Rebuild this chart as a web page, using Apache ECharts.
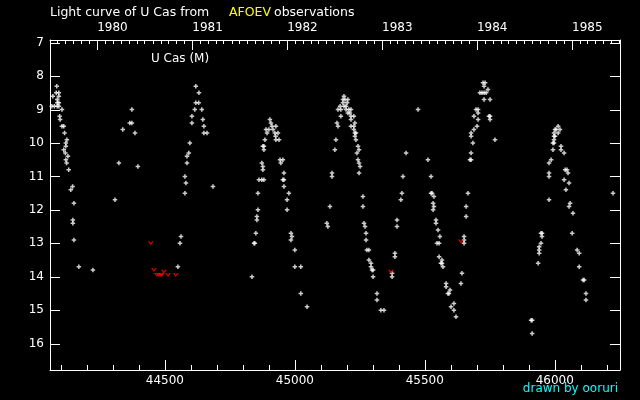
<!DOCTYPE html>
<html><head><meta charset="utf-8">
<script src="https://cdn.jsdelivr.net/npm/echarts@6/dist/echarts.min.js"></script>
<style>html,body{margin:0;padding:0;background:#000}#c{width:640px;height:400px}</style>
</head><body><div id="c"></div>
<script>
// JD - 2400000, visual magnitude
const visualObs = [
 [44084,8.3],[44069,8.6],[44082,8.5],[44092,8.5],[44092,8.6],[44086,8.7],[44086,8.8],[44092,8.8],
 [44065,8.9],[44075,8.9],[44086,8.9],[44092,8.9],[44104,9.0],[44095,9.2],[44097,9.3],[44104,9.5],
 [44111,9.5],[44114,9.7],[44123,9.9],[44119,10.0],[44119,10.1],[44111,10.2],[44117,10.3],[44127,10.4],
 [44119,10.5],[44122,10.6],[44130,10.8],[44145,11.3],[44138,11.4],[44150,11.8],[44146,12.3],[44146,12.4],
 [44150,12.9],[44169,13.7],[44223,13.8],
 [44308,11.7],[44323,10.6],[44338,9.6],[44365,9.4],[44373,9.4],[44373,9.0],[44385,9.7],[44396,10.7],
 [44562,12.8],[44558,13.0],[44550,13.7],
 [44577,11.5],[44581,11.2],[44577,11.0],[44585,10.6],[44585,10.4],[44592,10.3],[44596,10.0],[44604,9.4],
 [44604,9.2],[44615,9.0],[44619,8.8],[44630,8.8],[44631,8.5],[44619,8.3],[44642,9.0],[44646,9.3],
 [44650,9.5],[44650,9.7],[44662,9.7],[44685,11.3],
 [44835,14.0],[44843,13.0],[44846,13.0],[44850,12.7],[44854,12.2],[44854,12.3],[44858,12.0],[44858,11.5],
 [44862,11.1],[44873,11.1],[44881,11.1],[44877,10.8],[44877,10.7],[44873,10.6],[44881,10.2],[44877,10.1],
 [44881,10.1],[44885,9.9],[44893,9.7],[44889,9.6],[44900,9.6],[44916,9.6],[44904,9.3],[44908,9.4],
 [44912,9.5],[44927,9.5],[44923,9.7],[44935,9.7],[44926,9.8],[44927,9.9],[44939,9.9],[44943,10.5],
 [44954,10.5],[44946,10.6],[44958,10.9],[44954,11.1],[44958,11.1],[44958,11.3],[44977,11.5],[44970,11.7],
 [44970,12.0],[44985,12.7],[44989,12.8],[44985,12.9],[45000,13.2],[45000,13.7],[45023,13.7],[45023,14.5],
 [45047,14.9],
 [45123,12.4],[45127,12.5],[45135,11.9],[45143,10.9],[45143,11.0],[45154,10.2],[45158,9.9],[45162,9.4],
 [45166,9.5],[45166,9.0],[45174,8.9],[45177,9.0],[45177,9.2],[45185,8.7],[45185,8.8],[45189,8.6],
 [45189,8.9],[45193,8.7],[45197,8.9],[45197,9.0],[45201,8.8],[45204,8.7],[45204,9.1],[45208,9.0],
 [45212,9.1],[45216,9.0],[45216,9.2],[45216,9.3],[45216,9.5],[45227,9.2],[45231,9.4],[45227,9.5],
 [45227,9.6],[45231,9.7],[45235,9.7],[45231,9.8],[45235,9.9],[45243,10.1],[45247,10.2],[45239,10.3],
 [45243,10.5],[45247,10.6],[45251,10.7],[45247,10.9],[45262,11.6],[45262,11.9],[45266,12.4],[45270,12.5],
 [45274,12.7],[45274,12.9],[45277,13.2],[45285,13.2],[45285,13.5],[45293,13.6],[45293,13.7],[45297,13.8],
 [45301,13.8],[45301,14.0],[45316,14.5],[45316,14.7],[45331,15.0],[45343,15.0],
 [45374,13.9],[45374,14.0],[45385,13.3],[45385,13.4],[45393,12.3],[45393,12.5],[45408,11.7],[45412,11.5],
 [45416,11.0],[45428,10.3],[45474,9.0],[45512,10.5],[45524,11.0],[45524,11.5],[45528,11.5],[45535,11.6],
 [45532,11.8],[45535,11.9],[45532,12.0],[45543,12.3],[45543,12.4],[45551,12.6],[45558,12.8],[45547,13.0],
 [45555,13.0],[45555,13.4],[45566,13.5],[45566,13.6],[45562,13.6],[45570,13.7],[45582,14.2],[45582,14.3],
 [45597,14.4],[45589,14.5],[45593,14.5],[45612,14.8],[45601,14.9],[45612,15.0],[45620,15.2],[45643,13.9],
 [45639,14.2],[45651,12.8],[45651,12.9],[45651,13.0],[45659,12.2],[45659,11.9],[45666,11.5],
 [45674,10.5],[45678,10.5],[45678,10.3],[45685,10.0],[45678,9.7],[45678,9.8],[45689,9.6],[45701,9.5],
 [45705,9.3],[45689,9.2],[45705,9.1],[45697,9.0],[45705,9.0],[45728,8.7],[45751,8.7],[45712,8.5],
 [45720,8.5],[45728,8.5],[45736,8.5],[45743,8.4],[45728,8.3],[45724,8.2],[45732,8.2],[45747,9.2],
 [45751,9.2],[45751,9.3],[45770,9.9],
 [45909,15.3],[45913,15.3],[45913,15.7],[45936,13.6],[45940,13.2],[45940,13.3],[45940,13.1],[45947,13.0],
 [45947,12.7],[45951,12.7],[45951,12.8],[45978,11.7],[45978,10.9],[45978,11.0],[45978,10.6],[45986,10.5],
 [45993,10.2],[45993,10.0],[45997,10.0],[45997,9.9],[45997,9.8],[46001,9.8],[45997,9.7],[46013,9.7],
 [46001,9.6],[46005,9.6],[46020,9.6],[46013,9.5],[46024,10.1],[46024,10.2],[46036,10.3],[46040,10.8],
 [46047,10.8],[46051,10.9],[46036,11.1],[46055,11.2],[46043,11.4],[46059,11.8],[46055,11.9],[46070,12.1],
 [46067,12.7],[46086,13.2],[46094,13.3],[46094,13.7],[46109,14.1],[46113,14.1],[46120,14.5],[46120,14.7],
 [46224,11.5]
];
// "fainter than" observations
const fainterThan = [
 [44446,13.0],[44458,13.8],[44496,13.85],[44469,13.95],[44477,13.95],[44485,13.95],[44488,13.95],
 [44512,13.95],[44542,13.95],[45370,13.85],[45639,12.95]
];
const magTicks = [7,8,9,10,11,12,13,14,15,16];
const jdMajorTicks = [44500,45000,45500,46000];
const jdMinorTicks = [44100,44200,44300,44400,44600,44700,44800,44900,45100,45200,45300,45400,45600,45700,45800,45900,46100,46200];
const yearLabels = ['1980','1981','1982','1983','1984','1985'];

const JD_MIN = 44058, JD_MAX = 46251;
const MAG_MIN = 6.92, MAG_MAX = 16.79;
const toJD = (y, m) => Date.UTC(y, m, 1) / 86400000 + 40587.5;
const yearPos = yearLabels.map(s => toJD(+s, 0));
const monthPos = [];
for (let y = 1979; y <= 1985; y++) for (let m = 1; m < 12; m++) {
  const v = toJD(y, m); if (v > JD_MIN && v < JD_MAX) monthPos.push(v);
}
const yearName = v => { const i = yearPos.findIndex(p => Math.abs(p - v) < 0.01); return i >= 0 ? yearLabels[i] : ''; };

// tick specs: [value, length, side]  side: 0 bottom, 1 top, 2 left, 3 right
const xTickItems = [].concat(
  jdMajorTicks.map(v => [v, 10, 0]),
  jdMinorTicks.map(v => [v, 5, 0]),
  yearPos.map(v => [v, 10, 1]),
  monthPos.map(v => [v, 4, 1])
);
const yTickItems = [].concat(
  magTicks.map(v => [v, 10, 2]),
  magTicks.map(v => [v, 10, 3])
);

const FONT = 'DejaVu Sans';
const W = '#ffffff';
const lab = { color: W, fontFamily: FONT, fontSize: 12 };

function tickRenderer(isX) {
  return function (params, api) {
    const cs = params.coordSys;
    const v = api.value(0), len = api.value(1), side = api.value(2);
    let x1, y1, x2, y2;
    if (isX) {
      const x = Math.round(api.coord([v, MAG_MIN])[0]) + 0.5;
      x1 = x2 = x;
      if (side === 0) { y1 = cs.y + cs.height; y2 = y1 - len; }
      else { y1 = cs.y; y2 = y1 + len; }
    } else {
      const y = Math.round(api.coord([JD_MIN, v])[1]) + 0.5;
      y1 = y2 = y;
      if (side === 2) { x1 = cs.x; x2 = x1 + len; }
      else { x1 = cs.x + cs.width; x2 = x1 - len; }
    }
    return { type: 'line', shape: { x1, y1, x2, y2 }, style: { stroke: W, lineWidth: 1 }, silent: true };
  };
}

const chart = echarts.init(document.getElementById('c'), null, { renderer: 'canvas' });
chart.setOption({
  backgroundColor: '#000000',
  animation: false,
  grid: { left: 50, right: 20, top: 40, bottom: 30, containLabel: false, outerBoundsMode: 'none' },
  xAxis: [
    { type: 'value', min: JD_MIN, max: JD_MAX, position: 'bottom', splitLine: { show: false },
      axisLine: { show: true, lineStyle: { color: W, width: 1 } },
      axisTick: { show: false },
      axisLabel: Object.assign({ show: true, margin: 5, customValues: jdMajorTicks, formatter: v => String(v) }, lab) },
    { type: 'value', min: JD_MIN, max: JD_MAX, position: 'top', splitLine: { show: false },
      axisLine: { show: true, lineStyle: { color: W, width: 1 } },
      axisTick: { show: false },
      axisLabel: Object.assign({ show: true, margin: 6, align: 'left', customValues: yearPos, formatter: yearName }, lab) }
  ],
  yAxis: [
    { type: 'value', min: MAG_MIN, max: MAG_MAX, inverse: true, position: 'left', splitLine: { show: false },
      axisLine: { show: true, lineStyle: { color: W, width: 1 } },
      axisTick: { show: false },
      axisLabel: Object.assign({ show: true, margin: 6, customValues: magTicks, formatter: v => String(v) }, lab) },
    { type: 'value', min: MAG_MIN, max: MAG_MAX, inverse: true, position: 'right', splitLine: { show: false },
      axisLine: { show: true, lineStyle: { color: W, width: 1 } },
      axisTick: { show: false }, axisLabel: { show: false } }
  ],
  series: [
    { type: 'custom', xAxisIndex: 0, yAxisIndex: 0, silent: true, clip: false,
      data: xTickItems, renderItem: tickRenderer(true) },
    { type: 'custom', xAxisIndex: 0, yAxisIndex: 0, silent: true, clip: false,
      data: yTickItems, renderItem: tickRenderer(false) },
    { type: 'scatter', xAxisIndex: 0, yAxisIndex: 0, data: visualObs,
      symbol: 'path://M1,0H2V3H1Z M0,1H3V2H0Z', symbolSize: 4.5,
      itemStyle: { color: W }, silent: true },
    { type: 'scatter', xAxisIndex: 0, yAxisIndex: 0, data: fainterThan,
      symbol: 'path://M0,0L1.9,0L3,1.9L4.1,0L6,0L3,4Z', symbolSize: [6, 4],
      itemStyle: { color: '#ff0000' }, silent: true }
  ],
  graphic: [
    { type: 'text', left: 50, top: 6, style: { text: 'Light curve of U Cas from', fill: W, font: '12.5px "DejaVu Sans"' } },
    { type: 'text', left: 229, top: 6, style: { text: 'AFOEV', fill: '#ffff00', font: '12.5px "DejaVu Sans"' } },
    { type: 'text', left: 274, top: 6, style: { text: 'observations', fill: W, font: '12.5px "DejaVu Sans"' } },
    { type: 'text', left: 151, top: 53, style: { text: 'U Cas (M)', fill: W, font: '12px "DejaVu Sans"' } },
    { type: 'text', right: 22, top: 383, style: { text: 'drawn by ooruri', fill: '#00ffff', font: '12px "DejaVu Sans"' } }
  ]
});
</script></body></html>
